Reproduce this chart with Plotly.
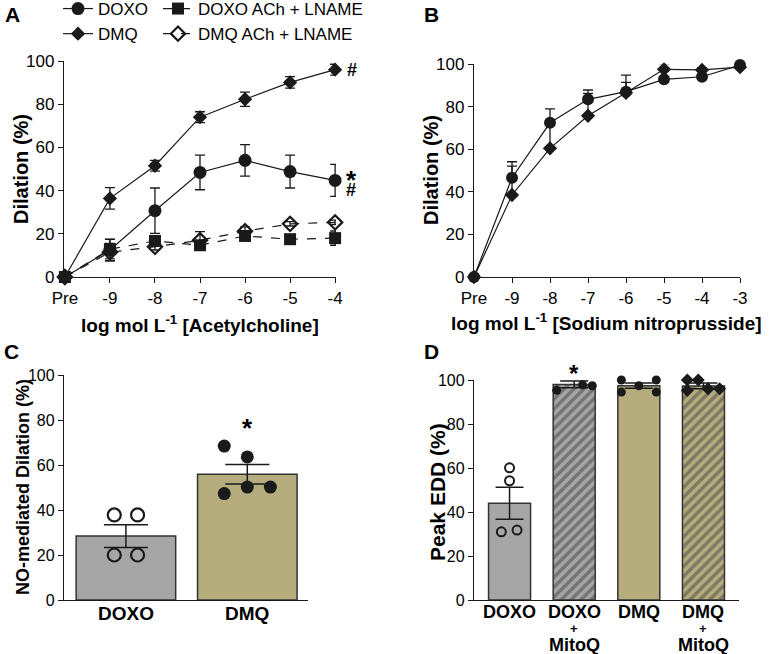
import plotly.graph_objects as go

FONT = "Liberation Sans, Arial, sans-serif"
INK = "#1a1a1a"

# ---- panel A: acetylcholine dose response ----
ach_doses = ["Pre", "-9", "-8", "-7", "-6", "-5", "-4"]
doxo_ach = [0, 12.5, 30.7, 48.4, 54.0, 48.8, 44.7]
doxo_ach_sem = [0, 5.0, 10.5, 8.0, 7.3, 7.6, 7.4]
dmq_ach = [0, 36.4, 51.5, 74.0, 82.3, 90.1, 96.0]
dmq_ach_sem = [0, 5.0, 2.5, 2.5, 3.3, 2.7, 2.5]
doxo_lname = [0, 12.9, 16.7, 14.7, 19.0, 17.5, 18.0]
doxo_lname_sem = [0, 4.5, 2.0, 2.0, 2.0, 1.5, 3.3]
dmq_lname = [0, 11.5, 14.0, 17.0, 21.2, 24.6, 25.3]
dmq_lname_sem = [0, 4.0, 1.5, 4.0, 2.0, 1.0, 1.0]

# ---- panel B: sodium nitroprusside dose response ----
snp_doses = ["Pre", "-9", "-8", "-7", "-6", "-5", "-4", "-3"]
doxo_snp = [0, 46.6, 72.4, 83.4, 87.0, 92.8, 94.0, 99.5]
doxo_snp_sem = [0, 7.5, 6.5, 4.4, 7.8, 4.0, 1.0, 0.5]
dmq_snp = [0, 38.5, 60.4, 75.7, 86.5, 97.5, 97.2, 98.5]
dmq_snp_sem = [0, 13.6, 12.0, 10.5, 4.9, 2.7, 1.0, 0.5]

# ---- panel C: NO-mediated dilation ----
no_groups = ["DOXO", "DMQ"]
no_mean = [28.4, 55.9]
no_sem = [5.1, 4.3]
no_doxo_pts = [37.8, 37.8, 20.0, 20.0]
no_dmq_pts = [68.4, 63.6, 47.3, 50.2, 50.2]

# ---- panel D: peak EDD ----
peak_groups = ["DOXO", "DOXO", "DMQ", "DMQ"]
peak_sub = ["", "MitoQ", "", "MitoQ"]
peak_mean = [44.0, 98.0, 97.4, 97.3]
peak_sem = [7.3, 1.5, 1.2, 1.3]
peak_doxo_pts = [60.1, 54.2, 31.0, 31.8]
peak_doxo_mito_pts = [100.4, 95.3, 100.2, 97.8, 97.4]
peak_dmq_pts = [100.0, 94.5, 97.4, 100.0, 94.5]
peak_dmq_mito_pts = [100.0, 100.0, 95.2, 96.0, 96.0]

GRAY = "#a6a6a6"
KHAKI = "#b6ad7e"

fig = go.Figure()


def err(vals, plus_only=False):
    e = dict(type="data", array=vals, color=INK, thickness=1.3, width=5, visible=True)
    if plus_only:
        e["symmetric"] = False
        e["arrayminus"] = [0] * len(vals)
    return e


# panel A
xa = list(range(len(ach_doses)))
fig.add_trace(go.Scatter(x=xa, y=doxo_lname, error_y=err(doxo_lname_sem), name="DOXO ACh + LNAME",
                         mode="lines+markers", line=dict(color=INK, width=1.2, dash="dash"),
                         marker=dict(symbol="square", size=12, color=INK),
                         xaxis="x", yaxis="y", cliponaxis=False, legend="legend2", legendrank=1))
fig.add_trace(go.Scatter(x=xa, y=dmq_lname, error_y=err(dmq_lname_sem), name="DMQ ACh + LNAME",
                         mode="lines+markers", line=dict(color=INK, width=1.2, dash="dash"),
                         marker=dict(symbol="diamond-open", size=11, color=INK, line=dict(width=2.2)),
                         xaxis="x", yaxis="y", cliponaxis=False, legend="legend2", legendrank=2))
fig.add_trace(go.Scatter(x=xa, y=doxo_ach, error_y=err(doxo_ach_sem), name="DOXO",
                         mode="lines+markers", line=dict(color=INK, width=1.2),
                         marker=dict(symbol="circle", size=13, color=INK),
                         xaxis="x", yaxis="y", cliponaxis=False, legendrank=1))
fig.add_trace(go.Scatter(x=xa, y=dmq_ach, error_y=err(dmq_ach_sem), name="DMQ",
                         mode="lines+markers", line=dict(color=INK, width=1.2),
                         marker=dict(symbol="diamond", size=11, color=INK),
                         xaxis="x", yaxis="y", cliponaxis=False, legendrank=2))

# panel B
xb = list(range(len(snp_doses)))
fig.add_trace(go.Scatter(x=xb, y=dmq_snp, error_y=err(dmq_snp_sem, True), mode="lines+markers",
                         line=dict(color=INK, width=1.2), marker=dict(symbol="diamond", size=11, color=INK),
                         xaxis="x2", yaxis="y2", cliponaxis=False, showlegend=False))
fig.add_trace(go.Scatter(x=xb, y=doxo_snp, error_y=err(doxo_snp_sem, True), mode="lines+markers",
                         line=dict(color=INK, width=1.2), marker=dict(symbol="circle", size=12, color=INK),
                         xaxis="x2", yaxis="y2", cliponaxis=False, showlegend=False))

# panel C
fig.add_trace(go.Bar(x=[0, 1], y=no_mean, width=0.82, marker=dict(color=[GRAY, KHAKI], line=dict(color="#333", width=1.5)),
                     error_y=dict(type="data", array=no_sem, color=INK, thickness=1.5, width=22),
                     xaxis="x3", yaxis="y3", showlegend=False))
c_off_doxo = [-0.096, 0.096, -0.096, 0.096]
c_off_dmq = [-0.19, 0.0, -0.19, 0.0, 0.19]
fig.add_trace(go.Scatter(x=[0 + o for o in c_off_doxo], y=no_doxo_pts, mode="markers",
                         marker=dict(symbol="circle-open", size=13, color=INK, line=dict(width=2.2)),
                         xaxis="x3", yaxis="y3", showlegend=False))
fig.add_trace(go.Scatter(x=[1 + o for o in c_off_dmq], y=no_dmq_pts, mode="markers",
                         marker=dict(symbol="circle", size=13, color=INK),
                         xaxis="x3", yaxis="y3", showlegend=False))

# panel D
fig.add_trace(go.Bar(x=[0, 1, 2, 3], y=peak_mean, width=0.65,
                     marker=dict(color=[GRAY, GRAY, KHAKI, KHAKI], line=dict(color="#333", width=1.5),
                                 pattern=dict(shape=["", "/", "", "/"], fgcolor=INK, size=7, solidity=0.5)),
                     error_y=dict(type="data", array=peak_sem, color=INK, thickness=1.5, width=14),
                     xaxis="x4", yaxis="y4", showlegend=False))
d_off4 = [0.0, 0.0, -0.127, 0.116]
d_off5 = [-0.27, -0.27, 0.0, 0.13, 0.28]
d_off5b = [-0.27, -0.27, 0.0, 0.27, 0.27]
d_off5c = [-0.25, -0.08, -0.25, 0.07, 0.25]
fig.add_trace(go.Scatter(x=[0 + o for o in d_off4], y=peak_doxo_pts, mode="markers",
                         marker=dict(symbol="circle-open", size=9, color=INK, line=dict(width=2)),
                         xaxis="x4", yaxis="y4", cliponaxis=False, showlegend=False))
fig.add_trace(go.Scatter(x=[1 + o for o in d_off5], y=peak_doxo_mito_pts, mode="markers",
                         marker=dict(symbol="circle", size=9, color=INK),
                         xaxis="x4", yaxis="y4", cliponaxis=False, showlegend=False))
fig.add_trace(go.Scatter(x=[2 + o for o in d_off5b], y=peak_dmq_pts, mode="markers",
                         marker=dict(symbol="circle", size=9, color=INK),
                         xaxis="x4", yaxis="y4", cliponaxis=False, showlegend=False))
fig.add_trace(go.Scatter(x=[3 + o for o in d_off5c], y=peak_dmq_mito_pts, mode="markers",
                         marker=dict(symbol="diamond", size=10, color=INK),
                         xaxis="x4", yaxis="y4", cliponaxis=False, showlegend=False))

W, H = 772, 654


def fx(px):
    return px / W


def fy(py):
    return 1 - py / H


def dom_x(a, b):
    return [fx(a), fx(b)]


def dom_y(top, bottom):
    return [fy(bottom), fy(top)]


axis_style = dict(showgrid=False, zeroline=False, showline=True, linecolor=INK, linewidth=1.3,
                  ticks="outside", ticklen=5, tickcolor=INK, tickwidth=1.3, automargin=False,
                  tickfont=dict(family=FONT, size=17, color="#000"))
yticks = [0, 20, 40, 60, 80, 100]

fig.update_layout(
    width=W, height=H, margin=dict(l=0, r=0, t=0, b=0, autoexpand=False),
    paper_bgcolor="white", plot_bgcolor="white",
    font=dict(family=FONT, color="#000"),
    xaxis=dict(axis_style, domain=dom_x(64, 336), range=[-0.02, 6.02], tickvals=xa, ticktext=ach_doses, anchor="y"),
    yaxis=dict(axis_style, domain=dom_y(61, 277), range=[0, 100], tickvals=yticks, anchor="x"),
    xaxis2=dict(axis_style, domain=dom_x(474, 740), range=[0, 7], tickvals=xb, ticktext=snp_doses, anchor="y2"),
    yaxis2=dict(axis_style, domain=dom_y(64, 277), range=[0, 100], tickvals=yticks, anchor="x2"),
    xaxis3=dict(axis_style, domain=dom_x(64, 308), range=[-0.51, 1.5], ticks="", showticklabels=False, anchor="y3"),
    yaxis3=dict(axis_style, domain=dom_y(375, 600), range=[0, 100], tickvals=yticks, anchor="x3",
                tickfont=dict(family=FONT, size=16, color="#000")),
    xaxis4=dict(axis_style, domain=dom_x(474, 739), range=[-0.55, 3.55], ticks="", showticklabels=False, anchor="y4"),
    yaxis4=dict(axis_style, domain=dom_y(380, 600), range=[0, 100], tickvals=yticks, anchor="x4",
                tickfont=dict(family=FONT, size=16, color="#000")),
    legend=dict(x=fx(58), y=fy(-9), xanchor="left", yanchor="top", orientation="v",
                font=dict(family=FONT, size=17, color="#000"), bgcolor="rgba(0,0,0,0)", tracegroupgap=0),
    legend2=dict(x=fx(158), y=fy(-9), xanchor="left", yanchor="top", orientation="v",
                 font=dict(family=FONT, size=17, color="#000"), bgcolor="rgba(0,0,0,0)", tracegroupgap=0),
)

ann = []


def label(text, x, y, size, angle=0, bold=True):
    ann.append(dict(text=("<b>%s</b>" % text) if bold else text, x=fx(x), y=fy(y), xref="paper", yref="paper",
                    showarrow=False, textangle=angle, font=dict(family=FONT, size=size, color="#000"),
                    xanchor="center", yanchor="middle"))


# panel letters
label("A", 12, 15, 21)
label("B", 431, 15, 21)
label("C", 11, 352, 21)
label("D", 431, 352, 21)

# axis titles
label("log mol L<sup>-1</sup> [Acetylcholine]", 200, 324, 19)
label("log mol L<sup>-1</sup> [Sodium nitroprusside]", 606, 322, 19)
label("Dilation (%)", 21, 169, 20, angle=-90)
label("Dilation (%)", 431, 170, 20, angle=-90)
label("NO-mediated Dilation (%)", 23, 487, 18, angle=-90)
label("Peak EDD (%)", 437, 492, 21, angle=-90)


def cat_label(text, x, xr, ypx, size):
    ann.append(dict(text="<b>%s</b>" % text, x=x, y=fy(ypx), xref=xr, yref="paper", showarrow=False,
                    font=dict(family=FONT, size=size, color="#000"), xanchor="center", yanchor="middle"))


# category labels under the bars
for i, g in enumerate(no_groups):
    cat_label(g, i, "x3", 613, 19)
for i, g in enumerate(peak_groups):
    cat_label(g, i, "x4", 612, 18)
    if peak_sub[i]:
        cat_label("+", i, "x4", 628, 13)
        cat_label(peak_sub[i], i, "x4", 645, 18)


# significance markers
def mark(text, x, y, xr, yr, size, xshift=0, yshift=0):
    ann.append(dict(text="<b>%s</b>" % text, x=x, y=y, xref=xr, yref=yr, showarrow=False,
                    xshift=xshift, yshift=yshift, font=dict(family=FONT, size=size, color="#000")))


mark("#", 6, dmq_ach[-1], "x", "y", 18, xshift=17)
mark("*", 6, 47.8, "x", "y", 26, xshift=16, yshift=-6)
mark("#", 6, 40.3, "x", "y", 18, xshift=16)
mark("*", 1, 79.3, "x3", "y3", 26, yshift=-6)
# above the axis range, so it is placed in paper space
mark("*", 1, fy(367), "x4", "paper", 24, yshift=-6)

fig.update_layout(annotations=ann)

# drop the default 8px page margin so the figure sits at the window corner
fig.write_html("out.html", config={"displayModeBar": False},
               post_script="document.body.style.margin = '0px';")
